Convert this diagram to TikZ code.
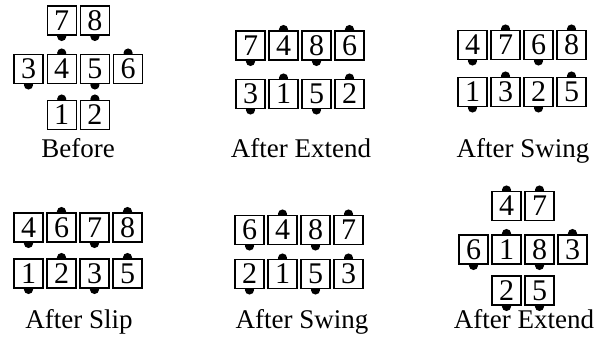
\documentclass[tikz,border=0pt]{standalone}
\usepackage{fontspec}
\setmainfont{Liberation Serif}
\usetikzlibrary{positioning, calc, backgrounds}

\tikzset{
  cell/.style={draw=black, fill=white, line width=1.3pt, minimum width=29pt,
    minimum height=29pt, inner sep=0pt, font=\fontsize{30}{30}\selectfont},
  knob/.style={fill=black},
  caption/.style={anchor=base, inner sep=0pt, font=\fontsize{27}{30}\selectfont}
}

\begin{document}
\begin{tikzpicture}[x=1pt, y=-1pt]
  \useasboundingbox (0,0) rectangle (597,345);

  \foreach \p/\x/\y/\d/\s in {
      a/61.7/20.5/7/south, a/94.9/20.5/8/south,
      a/28.5/69/3/south, a/61.7/69/4/north, a/94.9/69/5/south, a/128.1/69/6/north,
      a/61.7/115/1/north, a/94.9/115/2/north,
      b/250.5/45.5/7/south, b/283.5/45.5/4/north, b/316.5/45.5/8/south, b/349.5/45.5/6/north,
      b/250.5/94/3/south, b/283.5/94/1/north, b/316.5/94/5/south, b/349.5/94/2/north,
      c/472.5/45/4/south, c/505.5/45/7/north, c/538.5/45/6/south, c/571.5/45/8/north,
      c/472.5/92/1/south, c/505.5/92/3/north, c/538.5/92/2/south, c/571.5/92/5/north,
      d/28.5/227.5/4/south, d/61.5/227.5/6/north, d/94.5/227.5/7/south, d/127.5/227.5/8/north,
      d/28.5/273.5/1/south, d/61.5/273.5/2/north, d/94.5/273.5/3/south, d/127.5/273.5/5/north,
      e/249.5/230/6/south, e/282.5/230/4/north, e/315.5/230/8/south, e/348.5/230/7/north,
      e/249.5/274/2/south, e/282.5/274/1/north, e/315.5/274/5/south, e/348.5/274/3/north,
      f/506.5/206/4/north, f/539.5/206/7/north,
      f/473.5/249.5/6/south, f/506.5/249.5/1/north, f/539.5/249.5/8/south, f/572.5/249.5/3/north,
      f/506.5/290.5/2/south, f/539.5/290.5/5/south}{
    \node[cell] (\p\d) at (\x,\y) {\d};
    \scoped[on background layer]
      \fill[knob] ($(\p\d.\s)!-0.8pt!(\p\d.center)$) circle (4.6pt);
  }

  \node[caption] (cap-a) at (78,157) {Before};
  \node[caption] (cap-b) at (301,157) {After Extend};
  \node[caption] (cap-c) at (523,157) {After Swing};
  \node[caption] (cap-d) at (79,328) {After Slip};
  \node[caption] (cap-e) at (302,328) {After Swing};
  \node[caption] (cap-f) at (524,328) {After Extend};
\end{tikzpicture}
\end{document}
